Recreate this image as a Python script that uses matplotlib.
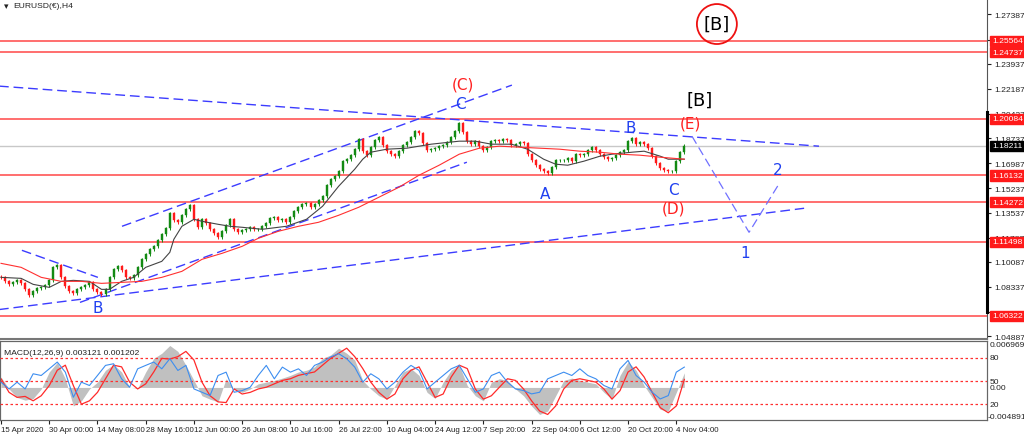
import numpy as np
import matplotlib
matplotlib.use("Agg")
import matplotlib.pyplot as plt
import matplotlib.transforms as mtransforms

# ---- EURUSD H4 closes, one value per bar ----
first_open = 1.0905
closes = [
    1.0901, 1.0873, 1.0852, 1.0866, 1.0880, 1.0859, 1.0817, 1.0775, 1.0803, 1.0824,
    1.0831, 1.0845, 1.0880, 1.0971, 1.0985, 1.0901, 1.0838, 1.0803, 1.0789, 1.0817,
    1.0831, 1.0845, 1.0866, 1.0817, 1.0796, 1.0782, 1.0817, 1.0901, 1.0957, 1.0978,
    1.0950, 1.0901, 1.0894, 1.0915, 1.0971, 1.1027, 1.1062, 1.1097, 1.1118, 1.1160,
    1.1202, 1.1244, 1.1349, 1.1300, 1.1286, 1.1335, 1.1377, 1.1405, 1.1307, 1.1251,
    1.1307, 1.1279, 1.1237, 1.1209, 1.1181, 1.1223, 1.1265, 1.1307, 1.1237, 1.1216,
    1.1230, 1.1237, 1.1251, 1.1237, 1.1237, 1.1258, 1.1279, 1.1314, 1.1321, 1.1300,
    1.1307, 1.1286, 1.1321, 1.1363, 1.1391, 1.1412, 1.1419, 1.1391, 1.1412, 1.1440,
    1.1468, 1.1545, 1.1587, 1.1608, 1.1643, 1.1713, 1.1727, 1.1755, 1.1797, 1.1867,
    1.1783, 1.1755, 1.1811, 1.1860, 1.1881, 1.1825, 1.1783, 1.1762, 1.1748, 1.1783,
    1.1825, 1.1846, 1.1881, 1.1923, 1.1909, 1.1839, 1.1790, 1.1797, 1.1804, 1.1818,
    1.1825, 1.1846, 1.1881, 1.1923, 1.1979, 1.1916, 1.1853, 1.1832, 1.1853, 1.1818,
    1.1790, 1.1811, 1.1853, 1.1860, 1.1853, 1.1867, 1.1860, 1.1825, 1.1832, 1.1846,
    1.1839, 1.1762, 1.1720, 1.1685, 1.1657, 1.1643, 1.1629, 1.1671, 1.1720, 1.1720,
    1.1720, 1.1734, 1.1713, 1.1762, 1.1755, 1.1762, 1.1790, 1.1811, 1.1790, 1.1762,
    1.1741, 1.1727, 1.1734, 1.1755, 1.1776, 1.1790, 1.1853, 1.1874, 1.1832, 1.1846,
    1.1832, 1.1804, 1.1748, 1.1699, 1.1664, 1.1650, 1.1643, 1.1643, 1.1713, 1.1776,
    1.1821,
]
last_price = 1.18211

# moving averages (bar index, price)
ma_fast_bars = [0, 5, 8, 12, 15, 18, 22, 25, 27, 30, 33, 36, 40, 42, 43, 45, 48, 50,
                54, 57, 60, 65, 71, 76, 80, 84, 88, 90, 92, 96, 101, 107, 114, 118,
                122, 127, 131, 135, 138, 141, 145, 149, 152, 157, 160, 164, 166, 170]
ma_fast_vals = [1.0901, 1.0894, 1.0852, 1.0831, 1.0873, 1.0880, 1.0873, 1.0817, 1.0817,
                1.0873, 1.0901, 1.0971, 1.1013, 1.1076, 1.1167, 1.1258, 1.1307, 1.1293,
                1.1272, 1.1258, 1.1251, 1.1237, 1.1258, 1.1307, 1.1398, 1.1538, 1.1657,
                1.1727, 1.1776, 1.1797, 1.1804, 1.1832, 1.1853, 1.1853, 1.1832, 1.1832,
                1.1797, 1.1727, 1.1692, 1.1685, 1.1713, 1.1748, 1.1762, 1.1776, 1.1783,
                1.1748, 1.1727, 1.1727]
ma_slow_bars = [0, 5, 10, 15, 20, 25, 30, 35, 40, 45, 50, 55, 60, 64, 69, 74, 79, 84,
                89, 94, 99, 104, 109, 114, 119, 124, 129, 134, 139, 144, 149, 154, 159,
                164, 170]
ma_slow_vals = [1.0999, 1.0971, 1.0901, 1.0873, 1.0873, 1.0859, 1.0866, 1.0873, 1.0901,
                1.0943, 1.1027, 1.1069, 1.1118, 1.1174, 1.1223, 1.1258, 1.1286, 1.1335,
                1.1391, 1.1461, 1.1531, 1.1615, 1.1685, 1.1762, 1.1804, 1.1818, 1.1811,
                1.1804, 1.1797, 1.1783, 1.1776, 1.1762, 1.1755, 1.1741, 1.1727]

levels = [1.25564, 1.24737, 1.20084, 1.16132, 1.14272, 1.11498, 1.06322]
price_ticks = [1.27387, 1.25637, 1.23937, 1.22187, 1.20437, 1.18737, 1.16987, 1.15237,
               1.13537, 1.11787, 1.10087, 1.08337, 1.06587, 1.04887]

# trendlines drawn by the analyst: ((bar, price), (bar, price))
trendlines = [
    ((-1, 1.2239), (203.5, 1.1818)),
    ((-1, 1.0674), (199.8, 1.1384)),
    ((30.1, 1.1258), (127.1, 1.2245)),
    ((19.65, 1.0726), (115.9, 1.1706)),
    ((5.2, 1.1090), (24.1, 1.0901)),
]
projection_bars = [171.9, 186.1, 193.5]
projection_prices = [1.1888, 1.1216, 1.1552]

# wave labels: text, bar, price, colour, size
wave_labels = [
    ("(C)", 114.9, 1.2252, "red", 11),
    ("C", 114.4, 1.2119, "blue", 11),
    ("B", 24.1, 1.0691, "blue", 11),
    ("A", 135.3, 1.1489, "blue", 11),
    ("B", 156.7, 1.1951, "blue", 11),
    ("C", 167.2, 1.1517, "blue", 11),
    ("(D)", 167.4, 1.1384, "red", 11),
    ("(E)", 171.6, 1.1979, "red", 11),
    ("[B]", 173.9, 1.2140, "black", 13),
    ("1", 185.1, 1.1076, "blue", 11),
    ("2", 193.3, 1.1657, "blue", 11),
]
circled_label = ("[B]", 178.1, 1.2672)

# ---- MACD panel, one value every second bar (values in 1e-3) ----
macd_main = [1.56, -0.23, -1.51, -1.91, -1.66, -0.23, 2.32, 3.75, 1.30, -2.78,
             -2.02, -0.23, 0.79, 2.58, 3.44, 2.32, 0.03, -0.13, 2.32, 4.36,
             5.13, 6.30, 5.41, 3.34, 1.05, -1.25, -1.76, -2.17, 1.30, -0.23,
             -0.74, -0.23, 0.54, 0.79, 1.05, 1.40, 1.81, 2.32, 2.58, 3.09,
             4.36, 4.87, 5.89, 5.13, 4.11, 1.05, -0.23, -1.25, -1.76, 0.28,
             2.32, 2.83, 1.81, -0.74, -1.66, 0.79, 2.58, 3.34, 0.28, -1.25,
             -2.02, 0.79, 1.30, 1.05, -0.23, -1.25, -2.78, -4.06, -3.55, -1.25,
             1.05, 1.40, 1.05, 0.79, 0.54, -0.74, -1.76, 1.81, 3.85, 2.58,
             0.28, -1.51, -3.29, -3.55, -0.74, 2.20]
macd_signal = [1.30, -0.74, -1.50, -1.35, -2.01, -1.25, 0.28, 2.58, 3.34, 0.28,
               -2.52, -2.01, -0.74, 1.30, 3.34, 3.09, 0.79, -0.23, 0.54, 2.32,
               4.36, 4.26, 4.62, 5.41, 4.11, 0.79, -1.25, -2.17, -2.27, -0.23,
               -0.99, -0.74, -0.23, 0.03, 0.54, 1.05, 1.30, 1.81, 2.07, 2.32,
               3.34, 4.36, 5.13, 5.89, 4.62, 2.83, 0.79, -0.74, -1.76, -0.99,
               1.30, 2.58, 3.09, 0.79, -1.50, -0.99, 1.56, 3.34, 2.83, -0.23,
               -1.76, -1.25, 0.03, 1.30, 1.05, -0.23, -2.01, -3.54, -4.06, -2.78,
               -0.23, 1.05, 1.30, 1.05, 0.79, -0.23, -1.76, -0.48, 2.32, 3.09,
               1.56, -0.74, -3.03, -3.80, -2.78, 1.20]
osc_line = [48.5, 39.8, 48.5, 39.8, 59.3, 57.1, 65.7, 74.4, 61.4, 29.1,
            48.5, 44.2, 57.1, 70.1, 72.2, 52.8, 42.0, 65.7, 70.1, 74.4,
            65.7, 78.7, 63.6, 70.1, 39.8, 35.5, 31.2, 57.1, 61.4, 35.5,
            37.7, 42.0, 57.1, 70.1, 52.8, 67.9, 61.4, 65.7, 57.1, 70.1,
            74.4, 80.9, 85.2, 78.7, 67.9, 48.5, 59.3, 52.8, 39.8, 48.5,
            61.4, 70.1, 63.6, 39.8, 48.5, 57.1, 65.7, 70.1, 52.8, 35.5,
            39.8, 57.1, 61.4, 48.5, 39.8, 37.7, 33.4, 35.5, 52.8, 57.1,
            61.4, 57.1, 65.7, 57.1, 52.8, 44.2, 39.8, 65.7, 76.5, 57.1,
            48.5, 35.5, 26.9, 31.2, 61.4, 67.9]
osc_levels = [80, 50, 20]

date_labels = ["15 Apr 2020", "30 Apr 00:00", "14 May 08:00", "28 May 16:00",
               "12 Jun 00:00", "26 Jun 08:00", "10 Jul 16:00", "26 Jul 22:00",
               "10 Aug 04:00", "24 Aug 12:00", "7 Sep 20:00", "22 Sep 04:00",
               "6 Oct 12:00", "20 Oct 20:00", "4 Nov 04:00"]
BARS_PER_LABEL = 12

# ---- styles ----
UP = "#138a13"
DOWN = "#ff1a1a"
LINE_BLUE = "#3c3cff"
WICK = 0.0011
XMIN, XMAX = -0.25, 245.3
AXIS_FONT = dict(family="Liberation Sans", fontsize=6.1, color="#222222")

plt.rcParams["font.family"] = ["DejaVu Sans"]
fig = plt.figure(figsize=(10.24, 4.39), dpi=100)
ax = fig.add_axes([0, 99 / 439, 987 / 1024, 340 / 439])
ax2 = fig.add_axes([0, 18 / 439, 987 / 1024, 79 / 439])

# candles
closes_arr = np.array(closes)
opens = np.concatenate([[first_open], closes_arr[:-1]])
bars = np.arange(len(closes_arr))
up = closes_arr >= opens
colors = np.where(up, UP, DOWN)
body_lo = np.minimum(opens, closes_arr)
body_hi = np.maximum(opens, closes_arr)
ax.vlines(bars, body_lo - WICK, body_hi + WICK, colors=colors, lw=0.7, zorder=4)
ax.bar(bars, np.maximum(body_hi - body_lo, 0.0003), bottom=body_lo, width=0.5,
       color=colors, edgecolor=colors, lw=0.3, zorder=5)

# moving averages
ax.plot(ma_fast_bars, ma_fast_vals, color="#444444", lw=0.8, zorder=6)
ax.plot(ma_slow_bars, ma_slow_vals, color="#ff3030", lw=0.8, zorder=6)

# horizontal levels and current price
for lv in levels:
    ax.axhline(lv, color="#ff3333", lw=1.1, alpha=0.9, zorder=2)
ax.axhline(last_price, color="#c8c8c8", lw=1.0, zorder=1)

# trendlines
for (b0, p0), (b1, p1) in trendlines:
    ax.plot([b0, b1], [p0, p1], color=LINE_BLUE, lw=1.0, ls=(0, (7, 3.5)), zorder=3)
ax.plot(projection_bars, projection_prices, color="#7070ff", lw=0.9,
        ls=(0, (7, 3.5)), zorder=3)

for txt, b, p, col, size in wave_labels:
    ax.text(b, p, txt, color={"blue": "#1f3ff0", "red": "#ff2020"}.get(col, col),
            fontsize=size, ha="center", va="center", zorder=8)
ax.text(circled_label[1], circled_label[2], circled_label[0], fontsize=13,
        ha="center", va="center", color="black", zorder=8,
        bbox=dict(boxstyle="circle,pad=0.38", fc="none", ec="#ee1111", lw=1.3))

ax.text(0.004, 0.982, "\u25be", transform=ax.transAxes, fontsize=6.5,
        color="#222222", va="center", ha="left")
ax.text(0.013, 0.982, "EURUSD(\u20ac),H4", transform=ax.transAxes, va="center",
        ha="left", **AXIS_FONT)

ax.set_xlim(XMIN, XMAX)
ax.set_ylim(1.0470, 1.2847)
ax.set_xticks([])
ax.yaxis.tick_right()
ax.set_yticks(price_ticks)
ax.set_yticklabels([f"{v:.5f}" for v in price_ticks], family="Liberation Sans")
ax.tick_params(axis="y", labelsize=6.1, length=3, pad=2, colors="#222222")
for side in ["left", "top"]:
    ax.spines[side].set_visible(False)
ax.spines["right"].set_color("#555555")
ax.spines["bottom"].set_color("#777777")
ax.spines["bottom"].set_linewidth(1.5)

trans = mtransforms.blended_transform_factory(ax.transAxes, ax.transData)
ax.plot([1.0, 1.0], [1.0656, 1.2056], transform=trans, color="black", lw=2.2,
        clip_on=False, zorder=9)
for lv in levels:
    ax.text(1.005, lv, f"{lv:.5f}", transform=trans, va="center", ha="left",
            zorder=12, family="Liberation Sans", fontsize=6.1, color="white",
            bbox=dict(boxstyle="square,pad=0.18", fc="#ff1a1a", ec="#ff1a1a"))
ax.text(1.005, last_price, f"{last_price:.5f}", transform=trans, va="center",
        ha="left", zorder=12, family="Liberation Sans", fontsize=6.1, color="white",
        bbox=dict(boxstyle="square,pad=0.18", fc="black", ec="black"))

# ---- MACD panel ----
ind_x = np.arange(len(macd_main)) * 2
ax2.fill_between(ind_x, 0, macd_main, color="#c0c0c0", lw=0, zorder=2)
ax2.plot(ind_x, macd_signal, color="#ff2a2a", lw=0.9, zorder=4)
ax2.set_xlim(XMIN, XMAX)
ax2.set_ylim(-4.891, 6.969)
ax2.set_yticks([])

ax3 = ax2.twinx()
ax3.plot(ind_x, osc_line, color="#3d8ef0", lw=0.8, zorder=5)
for lv in osc_levels:
    ax3.axhline(lv, color="#ff3030", lw=0.9, ls=(0, (2, 2)), zorder=3)
ax3.set_ylim(-0.2, 101.5)
ax3.set_yticks([])
ax3.set_xlim(XMIN, XMAX)

for a in (ax2, ax3):
    for side in a.spines:
        a.spines[side].set_color("#666666")
        a.spines[side].set_linewidth(0.8)

t2 = mtransforms.blended_transform_factory(ax2.transAxes, ax2.transData)
t3 = mtransforms.blended_transform_factory(ax3.transAxes, ax3.transData)
ax2.text(1.003, 6.45, "0.006969", transform=t2, va="center", ha="left", **AXIS_FONT)
ax2.text(1.003, 0.0, "0.00", transform=t2, va="center", ha="left", **AXIS_FONT)
ax2.text(1.001, -4.40, "-0.004891", transform=t2, va="center", ha="left", **AXIS_FONT)
for lv in osc_levels:
    ax3.text(1.003, lv, str(lv), transform=t3, va="center", ha="left", **AXIS_FONT)

ax2.text(0.004, 0.86, "MACD(12,26,9) 0.003121 0.001202", transform=ax2.transAxes,
         va="center", ha="left", **AXIS_FONT)

tick_pos = np.arange(len(date_labels)) * BARS_PER_LABEL
ax2.set_xticks(tick_pos)
ax2.set_xticklabels(date_labels, ha="left", family="Liberation Sans")
ax2.tick_params(axis="x", labelsize=5.7, length=3, pad=1.5, colors="#222222")

fig.savefig("out.png", dpi=100, facecolor="white")
